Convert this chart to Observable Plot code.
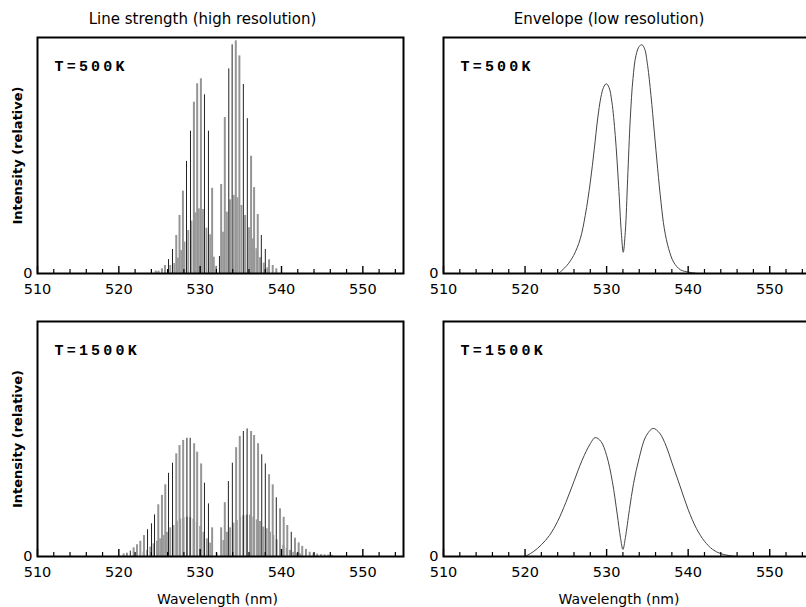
<!DOCTYPE html>
<html><head><meta charset="utf-8">
<script src="https://cdn.jsdelivr.net/npm/d3@7"></script>
<script src="https://cdn.jsdelivr.net/npm/@observablehq/plot@0.6"></script>
<style>
body{margin:0;background:#fff;}
#wrap{position:relative;width:806px;height:607px;overflow:hidden;background:#fff;}
#wrap svg{position:absolute;overflow:visible;}
</style></head><body><div id="wrap"></div>
<script>
// ---- tick labels / text ----
const xTickLabels = [510, 520, 530, 540, 550];
const xMinorTicks = [512, 514, 516, 518, 522, 524, 526, 528, 532, 534, 536, 538, 542, 544, 546, 548, 552, 554];
const yTickLabels = [0];
const panelTitles = ["Line strength (high resolution)", "Envelope (low resolution)"];
const tempLabels = ["T=500K", "T=1500K"];
const yLabel = "Intensity (relative)";
const xLabel = "Wavelength (nm)";

// ---- T = 500 K, stick spectrum [nm, relative intensity] ----
const dark500 = [[526.11,0.059],[526.60,0.102],[528.32,0.475],[528.81,0.603],[530.53,0.757],[531.02,0.603],[531.96,0.03],[532.37,0.072],[533.52,0.867],[533.93,0.969],[535.31,0.801],[535.80,0.656],[537.52,0.161],[538.01,0.102]];
const light500 = [[524.54,0.01],[524.88,0.01],[525.30,0.02],[525.67,0.034],[527.06,0.161],[527.46,0.246],[527.88,0.349],[529.23,0.726],[529.63,0.804],[530.09,0.825],[531.47,0.361],[532.58,0.377],[533.03,0.661],[534.38,0.986],[534.82,0.922],[536.26,0.497],[536.63,0.364],[537.08,0.25],[538.47,0.058],[538.92,0.034],[539.36,0.02]];
const weak500 = [[526.32,0.034],[526.81,0.042],[527.26,0.065],[527.67,0.097],[528.07,0.133],[528.53,0.182],[528.93,0.222],[529.39,0.257],[529.84,0.274],[530.33,0.271],[530.77,0.192],[531.23,0.164],[531.68,0.069],[532.82,0.175],[533.28,0.26],[533.68,0.312],[534.13,0.331],[534.58,0.321],[535.07,0.288],[535.52,0.246],[536.01,0.194],[536.47,0.147],[536.91,0.105],[537.36,0.067],[537.82,0.044],[538.26,0.024]];

// ---- T = 1500 K, stick spectrum ----
const dark1500 = [[521.00,0.014],[521.41,0.023],[523.53,0.114],[524.02,0.139],[524.39,0.177],[526.11,0.354],[526.60,0.397],[528.37,0.503],[528.77,0.503],[530.53,0.312],[531.02,0.224],[532.05,0.014],[533.47,0.319],[533.96,0.397],[535.31,0.532],[535.77,0.543],[537.57,0.433],[538.01,0.394],[539.36,0.25],[541.20,0.103],[543.01,0.03]];
const light1500 = [[520.59,0.011],[521.82,0.037],[522.23,0.05],[522.64,0.065],[523.09,0.089],[524.85,0.22],[525.30,0.26],[525.71,0.305],[527.06,0.437],[527.46,0.472],[527.91,0.494],[529.26,0.48],[529.63,0.444],[530.12,0.394],[531.47,0.122],[532.58,0.122],[533.03,0.229],[534.42,0.463],[534.87,0.511],[536.26,0.532],[536.63,0.515],[537.12,0.48],[538.47,0.348],[538.92,0.305],[539.82,0.203],[540.27,0.167],[540.71,0.132],[541.66,0.078],[542.11,0.058],[542.55,0.043],[543.46,0.018],[543.95,0.014],[544.39,0.01],[544.85,0.008],[545.30,0.007],[545.74,0.006],[546.20,0.005]];
const weak1500 = [[523.04,0.018],[523.46,0.026],[523.87,0.04],[524.27,0.054],[524.69,0.065],[525.09,0.075],[525.50,0.089],[525.91,0.103],[526.32,0.122],[526.72,0.132],[527.14,0.15],[527.55,0.159],[527.95,0.165],[528.37,0.167],[528.77,0.165],[529.18,0.159],[529.60,0.146],[530.00,0.128],[530.41,0.103],[530.82,0.075],[531.23,0.057],[532.86,0.068],[533.28,0.103],[533.68,0.122],[534.09,0.142],[534.50,0.153],[534.91,0.167],[535.31,0.173],[535.73,0.176],[536.13,0.176],[536.54,0.167],[536.96,0.156],[537.36,0.149],[537.77,0.125],[538.18,0.118],[538.59,0.103],[538.99,0.089],[539.41,0.071],[539.82,0.057],[540.22,0.047],[540.64,0.035],[541.04,0.026],[541.45,0.018],[541.87,0.014],[542.27,0.011]];

// ---- envelopes (low resolution) ----
const envelope500 = [[524.11,0],[525.13,0.034],[525.95,0.076],[526.77,0.147],[527.38,0.246],[528.00,0.387],[528.49,0.528],[528.90,0.655],[529.30,0.747],[529.63,0.789],[529.96,0.804],[530.29,0.789],[530.65,0.726],[531.06,0.585],[531.47,0.373],[531.80,0.175],[532.04,0.09],[532.29,0.175],[532.58,0.401],[532.90,0.655],[533.23,0.825],[533.60,0.924],[534.01,0.963],[534.34,0.969],[534.66,0.952],[535.03,0.881],[535.44,0.754],[535.85,0.599],[536.26,0.444],[536.67,0.302],[537.08,0.189],[537.61,0.105],[538.22,0.048],[539.04,0.016],[540.06,0.006],[541.08,0]];
const envelope1500 = [[520.0,0],[521.0,0.02],[522.0,0.05],[523.0,0.09],[524.0,0.15],[525.0,0.23],[526.0,0.32],[527.0,0.41],[528.0,0.48],[528.6,0.506],[529.3,0.49],[530.0,0.43],[530.7,0.32],[531.3,0.18],[531.7,0.08],[532.0,0.03],[532.3,0.08],[532.8,0.2],[533.3,0.31],[534.0,0.42],[534.8,0.51],[535.7,0.545],[536.5,0.525],[537.3,0.47],[538.0,0.4],[539.0,0.3],[540.0,0.2],[541.0,0.12],[542.0,0.065],[543.0,0.03],[544.0,0.012],[545.0,0.004],[546.0,0]];

const wrap = document.getElementById("wrap");

function panel({sticks, envelope, temp, title, xlab, ylab, left, top, height, mt, mb, mr, xlabDx}) {
  const marks = [];
  if (sticks) {
    const [weak, light, dark] = sticks;
    marks.push(Plot.ruleX(weak, {x: d => d[0], y1: 0, y2: d => d[1], stroke: "#9d9d9d", strokeWidth: 2}));
    marks.push(Plot.ruleX(light, {x: d => d[0], y1: 0, y2: d => d[1], stroke: "#959595", strokeWidth: 2}));
    marks.push(Plot.ruleX(dark, {x: d => d[0], y1: 0, y2: d => d[1], stroke: "#222", strokeWidth: 1}));
  }
  if (envelope) {
    marks.push(Plot.line(envelope, {x: d => d[0], y: d => d[1], curve: "catmull-rom", stroke: "#444", strokeWidth: 1}));
  }
  marks.push(Plot.axisX({ticks: xMinorTicks, tickSize: -4, tickFormat: () => "", strokeWidth: 1.2, label: null}));
  marks.push(Plot.axisX({ticks: xTickLabels, tickSize: -7, tickFormat: () => "", strokeWidth: 1.4, label: null}));
  marks.push(Plot.axisX({ticks: xTickLabels, tickSize: 0, tickPadding: 10, tickFormat: d3.format("d"), label: null}));
  marks.push(Plot.axisY({ticks: yTickLabels, tickSize: 0, tickPadding: 5, tickFormat: d3.format("d"), label: null}));
  marks.push(Plot.frame({stroke: "black", strokeWidth: 2}));
  marks.push(Plot.text([temp], {text: d => d, frameAnchor: "top-left", textAnchor: "start", lineAnchor: "middle", dx: 17, dy: 29, fontFamily: "Liberation Mono", fontWeight: "bold", fontSize: 15}));
  if (title) marks.push(Plot.text([title], {text: d => d, frameAnchor: "top", textAnchor: "middle", lineAnchor: "middle", dx: -18, dy: -18, fontSize: 15}));
  if (xlab) marks.push(Plot.text([xlab], {text: d => d, frameAnchor: "bottom", textAnchor: "middle", lineAnchor: "middle", dx: xlabDx, dy: 43, fontSize: 14}));
  if (ylab) marks.push(Plot.text([ylab], {text: d => d, frameAnchor: "left", textAnchor: "middle", lineAnchor: "middle", rotate: -90, dx: -20, fontWeight: "bold", fontSize: 13}));
  const svg = Plot.plot({
    width: 410, height,
    marginLeft: 37, marginRight: mr, marginTop: mt, marginBottom: mb,
    x: {domain: [510, 555], label: null},
    y: {domain: [0, 1], label: null},
    style: {fontFamily: "DejaVu Sans", fontSize: "14.5px", background: "none", color: "black", overflow: "visible"},
    marks
  });
  d3.select(svg).selectAll("text").filter(function() { return this.textContent.startsWith("T="); }).attr("letter-spacing", "3.2px");
  svg.style.left = left + "px";
  svg.style.top = top + "px";
  wrap.appendChild(svg);
}

panel({sticks: [weak500, light500, dark500], temp: tempLabels[0], title: panelTitles[0], ylab: yLabel, left: 0, top: 0, height: 300, mt: 37, mb: 27, mr: 7});
panel({envelope: envelope500, temp: tempLabels[0], title: panelTitles[1], left: 406, top: 0, height: 300, mt: 37, mb: 27, mr: 6});
panel({sticks: [weak1500, light1500, dark1500], temp: tempLabels[1], xlab: xLabel, xlabDx: -3, ylab: yLabel, left: 0, top: 300, height: 307, mt: 21, mb: 51, mr: 7});
panel({envelope: envelope1500, temp: tempLabels[1], xlab: xLabel, xlabDx: -8, left: 406, top: 300, height: 307, mt: 21, mb: 51, mr: 6});
</script></body></html>
